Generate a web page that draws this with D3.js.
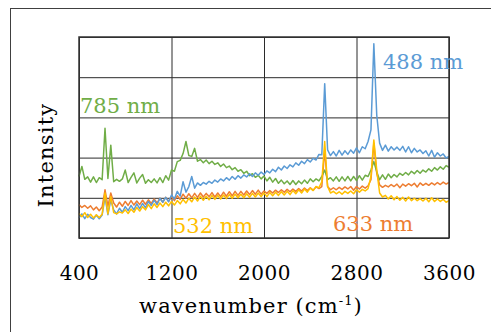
<!DOCTYPE html>
<html>
<head>
<meta charset="utf-8">
<script src="https://cdn.jsdelivr.net/npm/d3@7"></script>
<style>
  body { margin: 0; background: #fff; }
  text { font-family: "DejaVu Serif", serif; }
</style>
</head>
<body>
<div id="chart"></div>
<script>
// sample positions of the spectra (cm-1), every 25 from 400 to 3600
const wavenumbers = d3.range(400, 3601, 25);

const xTicks = [400, 1200, 2000, 2800, 3600];
const yGrid = [0, 1, 2, 3, 4, 5];

// intensities (arbitrary units, 0..5), noise included
const nm488 = [
  0.50, 0.60, 0.48, 0.59, 0.51, 0.47, 0.57, 0.48,
  0.57, 1.02, 0.58, 0.95, 0.70, 0.60, 0.74, 0.64,
  0.78, 0.68, 0.81, 0.70, 0.85, 0.73, 0.86, 0.75,
  0.91, 0.81, 0.94, 0.83, 0.99, 0.89, 1.01, 0.90,
  1.07, 0.97, 1.16, 1.04, 1.40, 1.14, 1.28, 1.53,
  1.24, 1.37, 1.31, 1.38, 1.34, 1.41, 1.36, 1.44,
  1.39, 1.47, 1.42, 1.50, 1.44, 1.53, 1.46, 1.55,
  1.49, 1.57, 1.52, 1.60, 1.53, 1.62, 1.56, 1.64,
  1.58, 1.67, 1.62, 1.71, 1.65, 1.76, 1.69, 1.79,
  1.73, 1.82, 1.77, 1.87, 1.81, 1.91, 1.85, 1.95,
  1.89, 1.98, 1.94, 2.08, 2.07, 3.84, 2.19, 2.05,
  2.15, 2.04, 2.18, 2.06, 2.17, 2.08, 2.19, 2.11,
  2.24, 2.12, 2.27, 2.22, 2.40, 2.69, 4.83, 3.06,
  2.36, 2.18, 2.31, 2.16, 2.27, 2.19, 2.26, 2.18,
  2.28, 2.14, 2.27, 2.12, 2.23, 2.14, 2.19, 2.10,
  2.17, 2.04, 2.18, 2.01, 2.12, 2.04, 2.09, 1.99,
  2.03
];
const nm532 = [
  0.61, 0.53, 0.63, 0.51, 0.59, 0.50, 0.58, 0.51,
  0.59, 1.12, 0.60, 1.03, 0.63, 0.60, 0.65, 0.62,
  0.70, 0.61, 0.72, 0.64, 0.76, 0.67, 0.78, 0.70,
  0.83, 0.73, 0.85, 0.76, 0.87, 0.78, 0.89, 0.80,
  0.91, 0.82, 0.93, 0.85, 0.96, 0.87, 0.99, 0.90,
  1.02, 0.92, 1.04, 0.94, 1.04, 0.95, 1.06, 0.96,
  1.06, 0.97, 1.07, 0.98, 1.08, 0.99, 1.09, 1.00,
  1.09, 1.00, 1.10, 1.01, 1.11, 1.02, 1.12, 1.03,
  1.12, 1.03, 1.13, 1.05, 1.14, 1.06, 1.15, 1.07,
  1.16, 1.08, 1.18, 1.10, 1.20, 1.12, 1.22, 1.14,
  1.24, 1.18, 1.28, 1.25, 1.40, 2.40, 1.28, 1.12,
  1.16, 1.10, 1.15, 1.09, 1.16, 1.11, 1.17, 1.10,
  1.20, 1.14, 1.21, 1.17, 1.23, 1.53, 2.44, 1.69,
  1.12, 1.02, 1.06, 0.97, 1.05, 0.95, 1.03, 0.94,
  1.01, 0.92, 1.02, 0.93, 0.99, 0.93, 0.98, 0.92,
  0.99, 0.90, 1.00, 0.91, 0.97, 0.91, 0.96, 0.89,
  0.93
];
const nm633 = [
  0.83, 0.76, 0.81, 0.74, 0.80, 0.70, 0.77, 0.68,
  0.77, 1.20, 0.79, 1.12, 0.87, 0.77, 0.89, 0.79,
  0.91, 0.81, 0.93, 0.82, 0.92, 0.83, 0.94, 0.84,
  0.95, 0.86, 0.97, 0.87, 0.99, 0.89, 1.01, 0.91,
  1.03, 0.93, 1.05, 0.96, 1.09, 0.99, 1.10, 1.00,
  1.11, 1.01, 1.12, 1.02, 1.11, 1.03, 1.13, 1.02,
  1.12, 1.03, 1.14, 1.04, 1.15, 1.05, 1.16, 1.06,
  1.16, 1.07, 1.17, 1.08, 1.18, 1.09, 1.19, 1.09,
  1.17, 1.11, 1.18, 1.12, 1.19, 1.13, 1.20, 1.14,
  1.21, 1.15, 1.22, 1.16, 1.23, 1.17, 1.24, 1.18,
  1.25, 1.19, 1.27, 1.23, 1.28, 2.19, 1.28, 1.20,
  1.25, 1.20, 1.26, 1.21, 1.27, 1.22, 1.28, 1.19,
  1.28, 1.22, 1.29, 1.24, 1.30, 1.45, 2.36, 1.61,
  1.32, 1.26, 1.31, 1.27, 1.33, 1.28, 1.34, 1.25,
  1.34, 1.29, 1.35, 1.30, 1.36, 1.27, 1.37, 1.31,
  1.36, 1.31, 1.37, 1.32, 1.38, 1.33, 1.39, 1.34,
  1.38
];
const nm785 = [
  1.53, 1.78, 1.46, 1.52, 1.39, 1.52, 1.38, 1.50,
  1.45, 2.73, 1.48, 2.31, 1.40, 1.46, 1.41, 1.47,
  1.69, 1.38, 1.51, 1.62, 1.37, 1.49, 1.58, 1.36,
  1.45, 1.38, 1.47, 1.37, 1.50, 1.38, 1.55, 1.44,
  1.69, 1.66, 1.90, 1.93, 2.10, 2.40, 2.05, 2.03,
  2.23, 1.91, 1.95, 1.87, 1.94, 1.85, 1.91, 1.83,
  1.87, 1.78, 1.84, 1.75, 1.79, 1.70, 1.75, 1.66,
  1.70, 1.61, 1.66, 1.55, 1.60, 1.51, 1.56, 1.47,
  1.54, 1.42, 1.51, 1.39, 1.48, 1.36, 1.44, 1.35,
  1.42, 1.33, 1.43, 1.33, 1.42, 1.35, 1.44, 1.36,
  1.47, 1.40, 1.47, 1.42, 1.53, 1.69, 1.45, 1.50,
  1.42, 1.52, 1.41, 1.52, 1.42, 1.53, 1.42, 1.53,
  1.43, 1.55, 1.44, 1.56, 1.53, 1.69, 1.90, 1.65,
  1.45, 1.57, 1.46, 1.59, 1.50, 1.58, 1.52, 1.61,
  1.56, 1.63, 1.57, 1.66, 1.60, 1.68, 1.61, 1.69,
  1.64, 1.72, 1.66, 1.75, 1.69, 1.77, 1.71, 1.80,
  1.76
];

// drawing order: orange under, yellow on top
const series = [
  {name: "633 nm", values: nm633, color: "#ED7D31", lx: 333, ly: 231},
  {name: "785 nm", values: nm785, color: "#70AD47", lx: 80, ly: 113},
  {name: "488 nm", values: nm488, color: "#5B9BD5", lx: 383, ly: 69},
  {name: "532 nm", values: nm532, color: "#FFC000", lx: 173, ly: 233}
];

const W = 491, H = 332;
const margin = {top: 37, right: 42, bottom: 94, left: 79};
const width = W - margin.left - margin.right;
const height = H - margin.top - margin.bottom;

const svg = d3.select("#chart")
  .append("svg")
  .attr("width", W)
  .attr("height", H);

// chart border, runs off the right and bottom of the picture
svg.append("rect")
  .attr("x", 10.5).attr("y", 8.5)
  .attr("width", W).attr("height", H)
  .attr("fill", "none")
  .attr("stroke", "#404040")
  .attr("stroke-width", 1);

const g = svg.append("g")
  .attr("transform", "translate(" + margin.left + "," + margin.top + ")");

const x = d3.scaleLinear().domain([400, 3600]).range([0, width]);
const y = d3.scaleLinear().domain([0, 5]).range([height, 0]);

// gridlines
g.append("g")
  .attr("class", "vgrid")
  .call(d3.axisBottom(x).tickValues(xTicks).tickSize(height).tickFormat(""))
  .call(s => s.select(".domain").remove())
  .selectAll("line").attr("stroke", "#2b2b2b");
g.append("g")
  .attr("class", "hgrid")
  .call(d3.axisLeft(y).tickValues(yGrid).tickSize(-width).tickFormat(""))
  .call(s => s.select(".domain").remove())
  .selectAll("line").attr("stroke", "#2b2b2b");

const line = d3.line()
  .x((d, i) => x(wavenumbers[i]))
  .y(d => y(d));

g.append("g")
  .selectAll("path")
  .data(series)
  .enter()
  .append("path")
    .attr("d", d => line(d.values))
    .attr("fill", "none")
    .attr("stroke", d => d.color)
    .attr("stroke-width", 1.5)
    .attr("stroke-linejoin", "round");

// plot frame
g.append("rect")
  .attr("x", 0).attr("y", 0)
  .attr("width", width).attr("height", height)
  .attr("fill", "none")
  .attr("stroke", "#333")
  .attr("stroke-width", 1.5);

// x tick labels
const xAxis = g.append("g")
  .attr("transform", "translate(0," + height + ")")
  .call(d3.axisBottom(x).tickValues(xTicks).tickSize(0).tickFormat(d3.format("d")));
xAxis.select(".domain").remove();
xAxis.selectAll("text")
  .attr("y", 42)
  .attr("dy", 0)
  .attr("fill", "#000")
  .style("font-family", "DejaVu Serif, serif")
  .style("font-size", "20px")
  .style("letter-spacing", "0.5px");

// axis titles
const xt = svg.append("text")
  .attr("x", 251).attr("y", 313)
  .attr("text-anchor", "middle")
  .attr("font-size", 21)
  .attr("letter-spacing", 1.1)
  .attr("fill", "#000");
xt.append("tspan").text("wavenumber (cm");
xt.append("tspan").attr("font-size", 13).attr("dy", -8).text("-1");
xt.append("tspan").attr("dy", 8).text(")");

svg.append("text")
  .attr("transform", "translate(53,155) rotate(-90)")
  .attr("text-anchor", "middle")
  .attr("font-size", 21)
  .attr("letter-spacing", 1.2)
  .attr("fill", "#000")
  .text("Intensity");

// series labels
svg.append("g")
  .selectAll("text")
  .data(series)
  .enter()
  .append("text")
    .attr("x", d => d.lx)
    .attr("y", d => d.ly)
    .attr("font-size", 21)
    .attr("fill", d => d.color)
    .text(d => d.name);
</script>
</body>
</html>
